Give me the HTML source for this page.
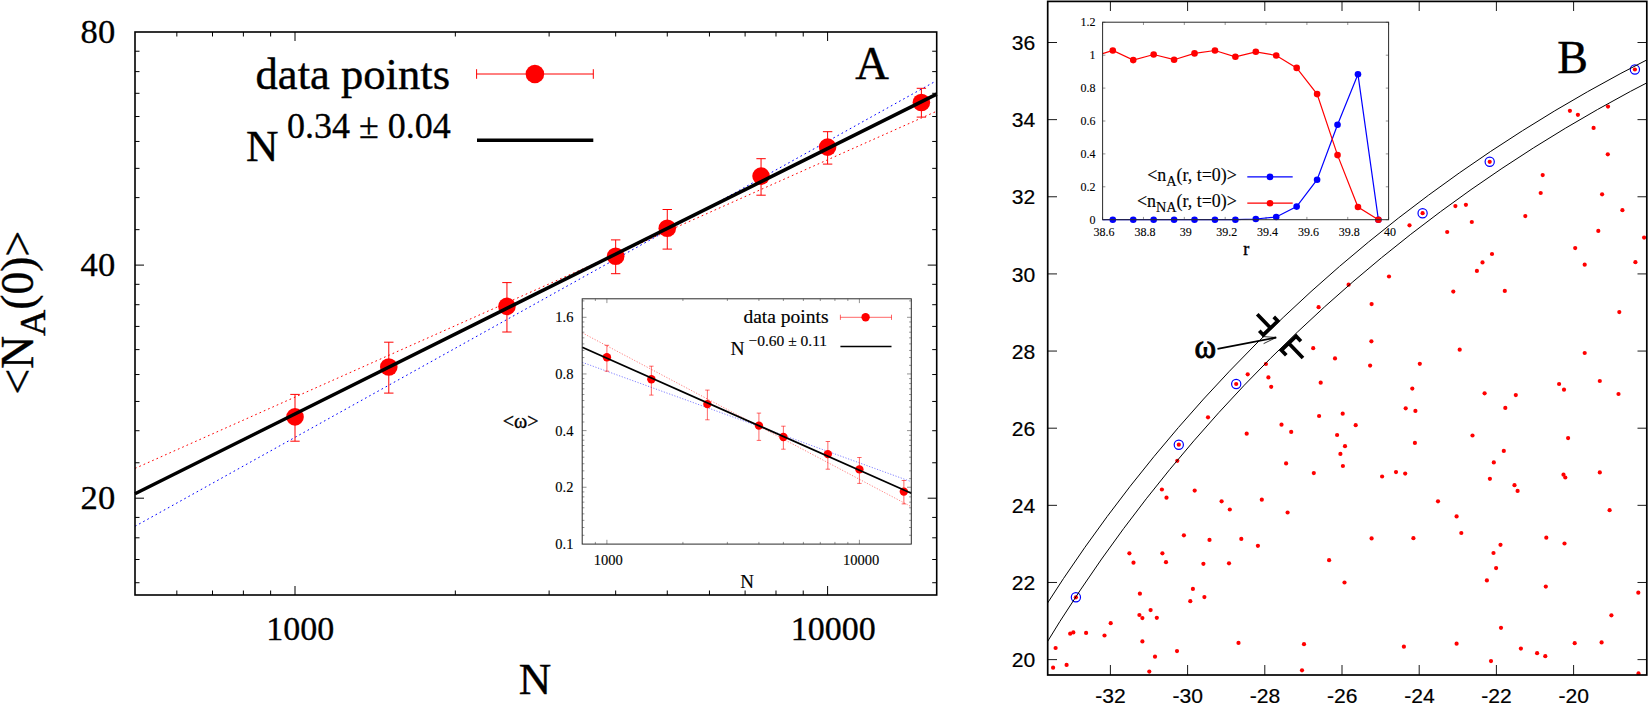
<!DOCTYPE html>
<html><head><meta charset="utf-8"><title>Figure</title>
<style>html,body{margin:0;padding:0;background:#fff}svg{display:block}</style></head>
<body><svg width="1648" height="703" viewBox="0 0 1648 703">
<rect width="1648" height="703" fill="#fff"/>
<g id="panelA">
<line x1="176.84" y1="595" x2="176.84" y2="590.5" stroke="#000" stroke-width="1.0" />
<line x1="176.84" y1="32" x2="176.84" y2="36.5" stroke="#000" stroke-width="1.0" />
<line x1="212.5" y1="595" x2="212.5" y2="590.5" stroke="#000" stroke-width="1.0" />
<line x1="212.5" y1="32" x2="212.5" y2="36.5" stroke="#000" stroke-width="1.0" />
<line x1="243.39" y1="595" x2="243.39" y2="590.5" stroke="#000" stroke-width="1.0" />
<line x1="243.39" y1="32" x2="243.39" y2="36.5" stroke="#000" stroke-width="1.0" />
<line x1="270.63" y1="595" x2="270.63" y2="590.5" stroke="#000" stroke-width="1.0" />
<line x1="270.63" y1="32" x2="270.63" y2="36.5" stroke="#000" stroke-width="1.0" />
<line x1="295" y1="595" x2="295" y2="586" stroke="#000" stroke-width="1.0" />
<line x1="295" y1="32" x2="295" y2="41" stroke="#000" stroke-width="1.0" />
<line x1="455.33" y1="595" x2="455.33" y2="590.5" stroke="#000" stroke-width="1.0" />
<line x1="455.33" y1="32" x2="455.33" y2="36.5" stroke="#000" stroke-width="1.0" />
<line x1="549.11" y1="595" x2="549.11" y2="590.5" stroke="#000" stroke-width="1.0" />
<line x1="549.11" y1="32" x2="549.11" y2="36.5" stroke="#000" stroke-width="1.0" />
<line x1="615.66" y1="595" x2="615.66" y2="590.5" stroke="#000" stroke-width="1.0" />
<line x1="615.66" y1="32" x2="615.66" y2="36.5" stroke="#000" stroke-width="1.0" />
<line x1="667.27" y1="595" x2="667.27" y2="590.5" stroke="#000" stroke-width="1.0" />
<line x1="667.27" y1="32" x2="667.27" y2="36.5" stroke="#000" stroke-width="1.0" />
<line x1="709.44" y1="595" x2="709.44" y2="590.5" stroke="#000" stroke-width="1.0" />
<line x1="709.44" y1="32" x2="709.44" y2="36.5" stroke="#000" stroke-width="1.0" />
<line x1="745.1" y1="595" x2="745.1" y2="590.5" stroke="#000" stroke-width="1.0" />
<line x1="745.1" y1="32" x2="745.1" y2="36.5" stroke="#000" stroke-width="1.0" />
<line x1="775.99" y1="595" x2="775.99" y2="590.5" stroke="#000" stroke-width="1.0" />
<line x1="775.99" y1="32" x2="775.99" y2="36.5" stroke="#000" stroke-width="1.0" />
<line x1="803.23" y1="595" x2="803.23" y2="590.5" stroke="#000" stroke-width="1.0" />
<line x1="803.23" y1="32" x2="803.23" y2="36.5" stroke="#000" stroke-width="1.0" />
<line x1="827.6" y1="595" x2="827.6" y2="586" stroke="#000" stroke-width="1.0" />
<line x1="827.6" y1="32" x2="827.6" y2="41" stroke="#000" stroke-width="1.0" />
<line x1="135" y1="498.2" x2="144" y2="498.2" stroke="#000" stroke-width="1.0" />
<line x1="936.7" y1="498.2" x2="927.7" y2="498.2" stroke="#000" stroke-width="1.0" />
<line x1="135" y1="265.1" x2="144" y2="265.1" stroke="#000" stroke-width="1.0" />
<line x1="936.7" y1="265.1" x2="927.7" y2="265.1" stroke="#000" stroke-width="1.0" />
<line x1="135" y1="582.72" x2="139.5" y2="582.72" stroke="#000" stroke-width="1.0" />
<line x1="936.7" y1="582.72" x2="932.2" y2="582.72" stroke="#000" stroke-width="1.0" />
<line x1="135" y1="559.51" x2="139.5" y2="559.51" stroke="#000" stroke-width="1.0" />
<line x1="936.7" y1="559.51" x2="932.2" y2="559.51" stroke="#000" stroke-width="1.0" />
<line x1="135" y1="537.81" x2="139.5" y2="537.81" stroke="#000" stroke-width="1.0" />
<line x1="936.7" y1="537.81" x2="932.2" y2="537.81" stroke="#000" stroke-width="1.0" />
<line x1="135" y1="517.42" x2="139.5" y2="517.42" stroke="#000" stroke-width="1.0" />
<line x1="936.7" y1="517.42" x2="932.2" y2="517.42" stroke="#000" stroke-width="1.0" />
<line x1="135" y1="462.77" x2="139.5" y2="462.77" stroke="#000" stroke-width="1.0" />
<line x1="936.7" y1="462.77" x2="932.2" y2="462.77" stroke="#000" stroke-width="1.0" />
<line x1="135" y1="430.72" x2="139.5" y2="430.72" stroke="#000" stroke-width="1.0" />
<line x1="936.7" y1="430.72" x2="932.2" y2="430.72" stroke="#000" stroke-width="1.0" />
<line x1="135" y1="401.45" x2="139.5" y2="401.45" stroke="#000" stroke-width="1.0" />
<line x1="936.7" y1="401.45" x2="932.2" y2="401.45" stroke="#000" stroke-width="1.0" />
<line x1="135" y1="374.54" x2="139.5" y2="374.54" stroke="#000" stroke-width="1.0" />
<line x1="936.7" y1="374.54" x2="932.2" y2="374.54" stroke="#000" stroke-width="1.0" />
<line x1="135" y1="349.62" x2="139.5" y2="349.62" stroke="#000" stroke-width="1.0" />
<line x1="936.7" y1="349.62" x2="932.2" y2="349.62" stroke="#000" stroke-width="1.0" />
<line x1="135" y1="326.41" x2="139.5" y2="326.41" stroke="#000" stroke-width="1.0" />
<line x1="936.7" y1="326.41" x2="932.2" y2="326.41" stroke="#000" stroke-width="1.0" />
<line x1="135" y1="304.71" x2="139.5" y2="304.71" stroke="#000" stroke-width="1.0" />
<line x1="936.7" y1="304.71" x2="932.2" y2="304.71" stroke="#000" stroke-width="1.0" />
<line x1="135" y1="284.32" x2="139.5" y2="284.32" stroke="#000" stroke-width="1.0" />
<line x1="936.7" y1="284.32" x2="932.2" y2="284.32" stroke="#000" stroke-width="1.0" />
<line x1="135" y1="229.67" x2="139.5" y2="229.67" stroke="#000" stroke-width="1.0" />
<line x1="936.7" y1="229.67" x2="932.2" y2="229.67" stroke="#000" stroke-width="1.0" />
<line x1="135" y1="197.62" x2="139.5" y2="197.62" stroke="#000" stroke-width="1.0" />
<line x1="936.7" y1="197.62" x2="932.2" y2="197.62" stroke="#000" stroke-width="1.0" />
<line x1="135" y1="168.35" x2="139.5" y2="168.35" stroke="#000" stroke-width="1.0" />
<line x1="936.7" y1="168.35" x2="932.2" y2="168.35" stroke="#000" stroke-width="1.0" />
<line x1="135" y1="141.44" x2="139.5" y2="141.44" stroke="#000" stroke-width="1.0" />
<line x1="936.7" y1="141.44" x2="932.2" y2="141.44" stroke="#000" stroke-width="1.0" />
<line x1="135" y1="116.52" x2="139.5" y2="116.52" stroke="#000" stroke-width="1.0" />
<line x1="936.7" y1="116.52" x2="932.2" y2="116.52" stroke="#000" stroke-width="1.0" />
<line x1="135" y1="93.31" x2="139.5" y2="93.31" stroke="#000" stroke-width="1.0" />
<line x1="936.7" y1="93.31" x2="932.2" y2="93.31" stroke="#000" stroke-width="1.0" />
<line x1="135" y1="71.61" x2="139.5" y2="71.61" stroke="#000" stroke-width="1.0" />
<line x1="936.7" y1="71.61" x2="932.2" y2="71.61" stroke="#000" stroke-width="1.0" />
<line x1="135" y1="51.22" x2="139.5" y2="51.22" stroke="#000" stroke-width="1.0" />
<line x1="936.7" y1="51.22" x2="932.2" y2="51.22" stroke="#000" stroke-width="1.0" />
<line x1="135" y1="468.4" x2="936.7" y2="111.2" stroke="#ff0000" stroke-width="1" stroke-dasharray="1.7 3"/>
<line x1="135" y1="526.3" x2="936.7" y2="80.6" stroke="#0000ff" stroke-width="1" stroke-dasharray="1.7 3"/>
<line x1="295" y1="394.4" x2="295" y2="441.2" stroke="#ff0000" stroke-width="1" />
<line x1="290.3" y1="394.4" x2="299.7" y2="394.4" stroke="#ff0000" stroke-width="1" />
<line x1="290.3" y1="441.2" x2="299.7" y2="441.2" stroke="#ff0000" stroke-width="1" />
<circle cx="295" cy="416.9" r="8.8" fill="#ff0000"/>
<line x1="388.79" y1="342.2" x2="388.79" y2="393.1" stroke="#ff0000" stroke-width="1" />
<line x1="384.09" y1="342.2" x2="393.49" y2="342.2" stroke="#ff0000" stroke-width="1" />
<line x1="384.09" y1="393.1" x2="393.49" y2="393.1" stroke="#ff0000" stroke-width="1" />
<circle cx="388.79" cy="367" r="8.8" fill="#ff0000"/>
<line x1="506.94" y1="282.6" x2="506.94" y2="332" stroke="#ff0000" stroke-width="1" />
<line x1="502.24" y1="282.6" x2="511.64" y2="282.6" stroke="#ff0000" stroke-width="1" />
<line x1="502.24" y1="332" x2="511.64" y2="332" stroke="#ff0000" stroke-width="1" />
<circle cx="506.94" cy="306.4" r="8.8" fill="#ff0000"/>
<line x1="615.66" y1="239.9" x2="615.66" y2="273.7" stroke="#ff0000" stroke-width="1" />
<line x1="610.96" y1="239.9" x2="620.36" y2="239.9" stroke="#ff0000" stroke-width="1" />
<line x1="610.96" y1="273.7" x2="620.36" y2="273.7" stroke="#ff0000" stroke-width="1" />
<circle cx="615.66" cy="256.3" r="8.8" fill="#ff0000"/>
<line x1="667.27" y1="209.5" x2="667.27" y2="249.1" stroke="#ff0000" stroke-width="1" />
<line x1="662.57" y1="209.5" x2="671.97" y2="209.5" stroke="#ff0000" stroke-width="1" />
<line x1="662.57" y1="249.1" x2="671.97" y2="249.1" stroke="#ff0000" stroke-width="1" />
<circle cx="667.27" cy="228.3" r="8.8" fill="#ff0000"/>
<line x1="761.06" y1="158.7" x2="761.06" y2="195.2" stroke="#ff0000" stroke-width="1" />
<line x1="756.36" y1="158.7" x2="765.76" y2="158.7" stroke="#ff0000" stroke-width="1" />
<line x1="756.36" y1="195.2" x2="765.76" y2="195.2" stroke="#ff0000" stroke-width="1" />
<circle cx="761.06" cy="176.1" r="8.8" fill="#ff0000"/>
<line x1="827.6" y1="131.7" x2="827.6" y2="164.1" stroke="#ff0000" stroke-width="1" />
<line x1="822.9" y1="131.7" x2="832.3" y2="131.7" stroke="#ff0000" stroke-width="1" />
<line x1="822.9" y1="164.1" x2="832.3" y2="164.1" stroke="#ff0000" stroke-width="1" />
<circle cx="827.6" cy="147.1" r="8.8" fill="#ff0000"/>
<line x1="921.39" y1="88.3" x2="921.39" y2="117.1" stroke="#ff0000" stroke-width="1" />
<line x1="916.69" y1="88.3" x2="926.09" y2="88.3" stroke="#ff0000" stroke-width="1" />
<line x1="916.69" y1="117.1" x2="926.09" y2="117.1" stroke="#ff0000" stroke-width="1" />
<circle cx="921.39" cy="102.5" r="8.8" fill="#ff0000"/>
<line x1="135" y1="493.7" x2="936.7" y2="94.1" stroke="#000" stroke-width="3.5" />
<rect x="135.0" y="32.0" width="801.7" height="563" fill="none" stroke="#000" stroke-width="1.6"/>
<text x="115.2" y="43.1" font-size="34.6" text-anchor="end" font-family="Liberation Serif, serif" stroke="#000" stroke-width="0.31" >80</text>
<text x="115.2" y="276" font-size="34.6" text-anchor="end" font-family="Liberation Serif, serif" stroke="#000" stroke-width="0.31" >40</text>
<text x="115.2" y="509.3" font-size="34.6" text-anchor="end" font-family="Liberation Serif, serif" stroke="#000" stroke-width="0.31" >20</text>
<text x="266.2" y="639.9" font-size="34" text-anchor="start" font-family="Liberation Serif, serif" stroke="#000" stroke-width="0.31" >1000</text>
<text x="790.7" y="639.9" font-size="34" text-anchor="start" font-family="Liberation Serif, serif" stroke="#000" stroke-width="0.31" >10000</text>
<text x="535" y="694.2" font-size="45" text-anchor="middle" font-family="Liberation Serif, serif" stroke="#000" stroke-width="0.4" >N</text>
<text transform="translate(32.7 312.7) rotate(-90)" font-size="45.5" text-anchor="middle" font-family="Liberation Serif, serif" stroke="#000" stroke-width="0.4">&lt;N<tspan font-size="36.4" dy="12.4">A</tspan><tspan dy="-12.4">(0)&gt;</tspan></text>
<text x="872.1" y="78.8" font-size="46.5" text-anchor="middle" font-family="Liberation Serif, serif" stroke="#000" stroke-width="0.42" >A</text>
<text x="450" y="88.5" font-size="44.6" text-anchor="end" font-family="Liberation Serif, serif" stroke="#000" stroke-width="0.4" >data points</text>
<line x1="476.6" y1="74" x2="593.3" y2="74" stroke="#ff0000" stroke-width="1" />
<line x1="476.6" y1="69.2" x2="476.6" y2="78.8" stroke="#ff0000" stroke-width="1" />
<line x1="593.3" y1="69.2" x2="593.3" y2="78.8" stroke="#ff0000" stroke-width="1" />
<circle cx="534.9" cy="74" r="9.3" fill="#ff0000"/>
<text x="246" y="160.6" font-size="45" text-anchor="start" font-family="Liberation Serif, serif" stroke="#000" stroke-width="0.4" >N</text>
<text x="287" y="138.3" font-size="36" text-anchor="start" font-family="Liberation Serif, serif" stroke="#000" stroke-width="0.32" >0.34 ± 0.04</text>
<line x1="477" y1="140.2" x2="593.3" y2="140.2" stroke="#000" stroke-width="3.4" />
</g>
<g id="insetA">
<line x1="595.35" y1="544.1" x2="595.35" y2="541.9" stroke="#666" stroke-width="0.7" />
<line x1="595.35" y1="298.8" x2="595.35" y2="301" stroke="#666" stroke-width="0.7" />
<line x1="606.9" y1="544.1" x2="606.9" y2="539.8" stroke="#666" stroke-width="0.7" />
<line x1="606.9" y1="298.8" x2="606.9" y2="303.1" stroke="#666" stroke-width="0.7" />
<line x1="682.91" y1="544.1" x2="682.91" y2="541.9" stroke="#666" stroke-width="0.7" />
<line x1="682.91" y1="298.8" x2="682.91" y2="301" stroke="#666" stroke-width="0.7" />
<line x1="727.37" y1="544.1" x2="727.37" y2="541.9" stroke="#666" stroke-width="0.7" />
<line x1="727.37" y1="298.8" x2="727.37" y2="301" stroke="#666" stroke-width="0.7" />
<line x1="758.92" y1="544.1" x2="758.92" y2="541.9" stroke="#666" stroke-width="0.7" />
<line x1="758.92" y1="298.8" x2="758.92" y2="301" stroke="#666" stroke-width="0.7" />
<line x1="783.39" y1="544.1" x2="783.39" y2="541.9" stroke="#666" stroke-width="0.7" />
<line x1="783.39" y1="298.8" x2="783.39" y2="301" stroke="#666" stroke-width="0.7" />
<line x1="803.38" y1="544.1" x2="803.38" y2="541.9" stroke="#666" stroke-width="0.7" />
<line x1="803.38" y1="298.8" x2="803.38" y2="301" stroke="#666" stroke-width="0.7" />
<line x1="820.29" y1="544.1" x2="820.29" y2="541.9" stroke="#666" stroke-width="0.7" />
<line x1="820.29" y1="298.8" x2="820.29" y2="301" stroke="#666" stroke-width="0.7" />
<line x1="834.93" y1="544.1" x2="834.93" y2="541.9" stroke="#666" stroke-width="0.7" />
<line x1="834.93" y1="298.8" x2="834.93" y2="301" stroke="#666" stroke-width="0.7" />
<line x1="847.85" y1="544.1" x2="847.85" y2="541.9" stroke="#666" stroke-width="0.7" />
<line x1="847.85" y1="298.8" x2="847.85" y2="301" stroke="#666" stroke-width="0.7" />
<line x1="859.4" y1="544.1" x2="859.4" y2="539.8" stroke="#666" stroke-width="0.7" />
<line x1="859.4" y1="298.8" x2="859.4" y2="303.1" stroke="#666" stroke-width="0.7" />
<line x1="582.2" y1="487.25" x2="586.5" y2="487.25" stroke="#666" stroke-width="0.7" />
<line x1="911.3" y1="487.25" x2="907" y2="487.25" stroke="#666" stroke-width="0.7" />
<line x1="582.2" y1="430.6" x2="586.5" y2="430.6" stroke="#666" stroke-width="0.7" />
<line x1="911.3" y1="430.6" x2="907" y2="430.6" stroke="#666" stroke-width="0.7" />
<line x1="582.2" y1="373.95" x2="586.5" y2="373.95" stroke="#666" stroke-width="0.7" />
<line x1="911.3" y1="373.95" x2="907" y2="373.95" stroke="#666" stroke-width="0.7" />
<line x1="582.2" y1="317.3" x2="586.5" y2="317.3" stroke="#666" stroke-width="0.7" />
<line x1="911.3" y1="317.3" x2="907" y2="317.3" stroke="#666" stroke-width="0.7" />
<line x1="582.2" y1="535.29" x2="584.4" y2="535.29" stroke="#666" stroke-width="0.7" />
<line x1="911.3" y1="535.29" x2="909.1" y2="535.29" stroke="#666" stroke-width="0.7" />
<line x1="582.2" y1="527.5" x2="584.4" y2="527.5" stroke="#666" stroke-width="0.7" />
<line x1="911.3" y1="527.5" x2="909.1" y2="527.5" stroke="#666" stroke-width="0.7" />
<line x1="582.2" y1="520.39" x2="584.4" y2="520.39" stroke="#666" stroke-width="0.7" />
<line x1="911.3" y1="520.39" x2="909.1" y2="520.39" stroke="#666" stroke-width="0.7" />
<line x1="582.2" y1="513.85" x2="584.4" y2="513.85" stroke="#666" stroke-width="0.7" />
<line x1="911.3" y1="513.85" x2="909.1" y2="513.85" stroke="#666" stroke-width="0.7" />
<line x1="582.2" y1="507.79" x2="584.4" y2="507.79" stroke="#666" stroke-width="0.7" />
<line x1="911.3" y1="507.79" x2="909.1" y2="507.79" stroke="#666" stroke-width="0.7" />
<line x1="582.2" y1="502.15" x2="584.4" y2="502.15" stroke="#666" stroke-width="0.7" />
<line x1="911.3" y1="502.15" x2="909.1" y2="502.15" stroke="#666" stroke-width="0.7" />
<line x1="582.2" y1="496.88" x2="584.4" y2="496.88" stroke="#666" stroke-width="0.7" />
<line x1="911.3" y1="496.88" x2="909.1" y2="496.88" stroke="#666" stroke-width="0.7" />
<line x1="582.2" y1="491.92" x2="584.4" y2="491.92" stroke="#666" stroke-width="0.7" />
<line x1="911.3" y1="491.92" x2="909.1" y2="491.92" stroke="#666" stroke-width="0.7" />
<line x1="582.2" y1="478.64" x2="584.4" y2="478.64" stroke="#666" stroke-width="0.7" />
<line x1="911.3" y1="478.64" x2="909.1" y2="478.64" stroke="#666" stroke-width="0.7" />
<line x1="582.2" y1="470.85" x2="584.4" y2="470.85" stroke="#666" stroke-width="0.7" />
<line x1="911.3" y1="470.85" x2="909.1" y2="470.85" stroke="#666" stroke-width="0.7" />
<line x1="582.2" y1="463.74" x2="584.4" y2="463.74" stroke="#666" stroke-width="0.7" />
<line x1="911.3" y1="463.74" x2="909.1" y2="463.74" stroke="#666" stroke-width="0.7" />
<line x1="582.2" y1="457.2" x2="584.4" y2="457.2" stroke="#666" stroke-width="0.7" />
<line x1="911.3" y1="457.2" x2="909.1" y2="457.2" stroke="#666" stroke-width="0.7" />
<line x1="582.2" y1="451.14" x2="584.4" y2="451.14" stroke="#666" stroke-width="0.7" />
<line x1="911.3" y1="451.14" x2="909.1" y2="451.14" stroke="#666" stroke-width="0.7" />
<line x1="582.2" y1="445.5" x2="584.4" y2="445.5" stroke="#666" stroke-width="0.7" />
<line x1="911.3" y1="445.5" x2="909.1" y2="445.5" stroke="#666" stroke-width="0.7" />
<line x1="582.2" y1="440.23" x2="584.4" y2="440.23" stroke="#666" stroke-width="0.7" />
<line x1="911.3" y1="440.23" x2="909.1" y2="440.23" stroke="#666" stroke-width="0.7" />
<line x1="582.2" y1="435.27" x2="584.4" y2="435.27" stroke="#666" stroke-width="0.7" />
<line x1="911.3" y1="435.27" x2="909.1" y2="435.27" stroke="#666" stroke-width="0.7" />
<line x1="582.2" y1="421.99" x2="584.4" y2="421.99" stroke="#666" stroke-width="0.7" />
<line x1="911.3" y1="421.99" x2="909.1" y2="421.99" stroke="#666" stroke-width="0.7" />
<line x1="582.2" y1="414.2" x2="584.4" y2="414.2" stroke="#666" stroke-width="0.7" />
<line x1="911.3" y1="414.2" x2="909.1" y2="414.2" stroke="#666" stroke-width="0.7" />
<line x1="582.2" y1="407.09" x2="584.4" y2="407.09" stroke="#666" stroke-width="0.7" />
<line x1="911.3" y1="407.09" x2="909.1" y2="407.09" stroke="#666" stroke-width="0.7" />
<line x1="582.2" y1="400.55" x2="584.4" y2="400.55" stroke="#666" stroke-width="0.7" />
<line x1="911.3" y1="400.55" x2="909.1" y2="400.55" stroke="#666" stroke-width="0.7" />
<line x1="582.2" y1="394.49" x2="584.4" y2="394.49" stroke="#666" stroke-width="0.7" />
<line x1="911.3" y1="394.49" x2="909.1" y2="394.49" stroke="#666" stroke-width="0.7" />
<line x1="582.2" y1="388.85" x2="584.4" y2="388.85" stroke="#666" stroke-width="0.7" />
<line x1="911.3" y1="388.85" x2="909.1" y2="388.85" stroke="#666" stroke-width="0.7" />
<line x1="582.2" y1="383.58" x2="584.4" y2="383.58" stroke="#666" stroke-width="0.7" />
<line x1="911.3" y1="383.58" x2="909.1" y2="383.58" stroke="#666" stroke-width="0.7" />
<line x1="582.2" y1="378.62" x2="584.4" y2="378.62" stroke="#666" stroke-width="0.7" />
<line x1="911.3" y1="378.62" x2="909.1" y2="378.62" stroke="#666" stroke-width="0.7" />
<line x1="582.2" y1="365.34" x2="584.4" y2="365.34" stroke="#666" stroke-width="0.7" />
<line x1="911.3" y1="365.34" x2="909.1" y2="365.34" stroke="#666" stroke-width="0.7" />
<line x1="582.2" y1="357.55" x2="584.4" y2="357.55" stroke="#666" stroke-width="0.7" />
<line x1="911.3" y1="357.55" x2="909.1" y2="357.55" stroke="#666" stroke-width="0.7" />
<line x1="582.2" y1="350.44" x2="584.4" y2="350.44" stroke="#666" stroke-width="0.7" />
<line x1="911.3" y1="350.44" x2="909.1" y2="350.44" stroke="#666" stroke-width="0.7" />
<line x1="582.2" y1="343.9" x2="584.4" y2="343.9" stroke="#666" stroke-width="0.7" />
<line x1="911.3" y1="343.9" x2="909.1" y2="343.9" stroke="#666" stroke-width="0.7" />
<line x1="582.2" y1="337.84" x2="584.4" y2="337.84" stroke="#666" stroke-width="0.7" />
<line x1="911.3" y1="337.84" x2="909.1" y2="337.84" stroke="#666" stroke-width="0.7" />
<line x1="582.2" y1="332.2" x2="584.4" y2="332.2" stroke="#666" stroke-width="0.7" />
<line x1="911.3" y1="332.2" x2="909.1" y2="332.2" stroke="#666" stroke-width="0.7" />
<line x1="582.2" y1="326.93" x2="584.4" y2="326.93" stroke="#666" stroke-width="0.7" />
<line x1="911.3" y1="326.93" x2="909.1" y2="326.93" stroke="#666" stroke-width="0.7" />
<line x1="582.2" y1="321.97" x2="584.4" y2="321.97" stroke="#666" stroke-width="0.7" />
<line x1="911.3" y1="321.97" x2="909.1" y2="321.97" stroke="#666" stroke-width="0.7" />
<line x1="582.2" y1="308.69" x2="584.4" y2="308.69" stroke="#666" stroke-width="0.7" />
<line x1="911.3" y1="308.69" x2="909.1" y2="308.69" stroke="#666" stroke-width="0.7" />
<line x1="582.2" y1="300.9" x2="584.4" y2="300.9" stroke="#666" stroke-width="0.7" />
<line x1="911.3" y1="300.9" x2="909.1" y2="300.9" stroke="#666" stroke-width="0.7" />
<line x1="582.2" y1="332.8" x2="911.3" y2="506.7" stroke="#ff0000" stroke-width="0.5" stroke-dasharray="1.2 1.6"/>
<line x1="582.2" y1="362.3" x2="911.3" y2="481.7" stroke="#0000ff" stroke-width="0.5" stroke-dasharray="1.2 1.6"/>
<line x1="606.9" y1="345.3" x2="606.9" y2="371.2" stroke="#ff0000" stroke-width="0.6" />
<line x1="604.7" y1="345.3" x2="609.1" y2="345.3" stroke="#ff0000" stroke-width="0.6" />
<line x1="604.7" y1="371.2" x2="609.1" y2="371.2" stroke="#ff0000" stroke-width="0.6" />
<circle cx="606.9" cy="357.3" r="4.2" fill="#ff0000"/>
<line x1="651.36" y1="366.2" x2="651.36" y2="395.1" stroke="#ff0000" stroke-width="0.6" />
<line x1="649.16" y1="366.2" x2="653.56" y2="366.2" stroke="#ff0000" stroke-width="0.6" />
<line x1="649.16" y1="395.1" x2="653.56" y2="395.1" stroke="#ff0000" stroke-width="0.6" />
<circle cx="651.36" cy="379.2" r="4.2" fill="#ff0000"/>
<line x1="707.38" y1="390.1" x2="707.38" y2="419.8" stroke="#ff0000" stroke-width="0.6" />
<line x1="705.18" y1="390.1" x2="709.58" y2="390.1" stroke="#ff0000" stroke-width="0.6" />
<line x1="705.18" y1="419.8" x2="709.58" y2="419.8" stroke="#ff0000" stroke-width="0.6" />
<circle cx="707.38" cy="404.1" r="4.2" fill="#ff0000"/>
<line x1="758.92" y1="413.1" x2="758.92" y2="440.4" stroke="#ff0000" stroke-width="0.6" />
<line x1="756.72" y1="413.1" x2="761.12" y2="413.1" stroke="#ff0000" stroke-width="0.6" />
<line x1="756.72" y1="440.4" x2="761.12" y2="440.4" stroke="#ff0000" stroke-width="0.6" />
<circle cx="758.92" cy="425.6" r="4.2" fill="#ff0000"/>
<line x1="783.39" y1="426.2" x2="783.39" y2="449.2" stroke="#ff0000" stroke-width="0.6" />
<line x1="781.19" y1="426.2" x2="785.59" y2="426.2" stroke="#ff0000" stroke-width="0.6" />
<line x1="781.19" y1="449.2" x2="785.59" y2="449.2" stroke="#ff0000" stroke-width="0.6" />
<circle cx="783.39" cy="437" r="4.2" fill="#ff0000"/>
<line x1="827.85" y1="441.5" x2="827.85" y2="469.2" stroke="#ff0000" stroke-width="0.6" />
<line x1="825.65" y1="441.5" x2="830.05" y2="441.5" stroke="#ff0000" stroke-width="0.6" />
<line x1="825.65" y1="469.2" x2="830.05" y2="469.2" stroke="#ff0000" stroke-width="0.6" />
<circle cx="827.85" cy="454.1" r="4.2" fill="#ff0000"/>
<line x1="859.4" y1="457.5" x2="859.4" y2="483.4" stroke="#ff0000" stroke-width="0.6" />
<line x1="857.2" y1="457.5" x2="861.6" y2="457.5" stroke="#ff0000" stroke-width="0.6" />
<line x1="857.2" y1="483.4" x2="861.6" y2="483.4" stroke="#ff0000" stroke-width="0.6" />
<circle cx="859.4" cy="469.4" r="4.2" fill="#ff0000"/>
<line x1="903.86" y1="480.5" x2="903.86" y2="503.9" stroke="#ff0000" stroke-width="0.6" />
<line x1="901.66" y1="480.5" x2="906.06" y2="480.5" stroke="#ff0000" stroke-width="0.6" />
<line x1="901.66" y1="503.9" x2="906.06" y2="503.9" stroke="#ff0000" stroke-width="0.6" />
<circle cx="903.86" cy="491.6" r="4.2" fill="#ff0000"/>
<line x1="582.2" y1="347.3" x2="911.3" y2="493.3" stroke="#000" stroke-width="1.8" />
<rect x="582.2" y="298.8" width="329.1" height="245.3" fill="none" stroke="#2a2a2a" stroke-width="1"/>
<text x="573.4" y="322.3" font-size="14.5" text-anchor="end" font-family="Liberation Serif, serif" stroke="#000" stroke-width="0.13" >1.6</text>
<text x="573.4" y="378.95" font-size="14.5" text-anchor="end" font-family="Liberation Serif, serif" stroke="#000" stroke-width="0.13" >0.8</text>
<text x="573.4" y="435.6" font-size="14.5" text-anchor="end" font-family="Liberation Serif, serif" stroke="#000" stroke-width="0.13" >0.4</text>
<text x="573.4" y="492.25" font-size="14.5" text-anchor="end" font-family="Liberation Serif, serif" stroke="#000" stroke-width="0.13" >0.2</text>
<text x="573.4" y="548.9" font-size="14.5" text-anchor="end" font-family="Liberation Serif, serif" stroke="#000" stroke-width="0.13" >0.1</text>
<text x="593.7" y="564.5" font-size="14.5" text-anchor="start" font-family="Liberation Serif, serif" stroke="#000" stroke-width="0.13" >1000</text>
<text x="843" y="564.5" font-size="14.5" text-anchor="start" font-family="Liberation Serif, serif" stroke="#000" stroke-width="0.13" >10000</text>
<text x="747.1" y="587.8" font-size="19" text-anchor="middle" font-family="Liberation Serif, serif" stroke="#000" stroke-width="0.17" >N</text>
<text x="520.6" y="428.3" font-size="20" text-anchor="middle" font-family="Liberation Serif, serif" stroke="#000" stroke-width="0.35">&lt;ω&gt;</text>
<text x="828.5" y="323.4" font-size="19.5" text-anchor="end" font-family="Liberation Serif, serif" stroke="#000" stroke-width="0.18" >data points</text>
<line x1="840.4" y1="317.3" x2="891.5" y2="317.3" stroke="#ff0000" stroke-width="0.6" />
<line x1="840.4" y1="314.7" x2="840.4" y2="319.9" stroke="#ff0000" stroke-width="0.6" />
<line x1="891.5" y1="314.7" x2="891.5" y2="319.9" stroke="#ff0000" stroke-width="0.6" />
<circle cx="865.6" cy="317.3" r="4.2" fill="#ff0000"/>
<text x="730.6" y="354.7" font-size="19.5" text-anchor="start" font-family="Liberation Serif, serif" stroke="#000" stroke-width="0.18" >N</text>
<text x="748.4" y="345.7" font-size="15.5" text-anchor="start" font-family="Liberation Serif, serif" stroke="#000" stroke-width="0.14" >−0.60 ± 0.11</text>
<line x1="840.4" y1="346.5" x2="891.5" y2="346.5" stroke="#000" stroke-width="1.7" />
</g>
<g id="panelB">
<clipPath id="cb"><rect x="1047.7" y="1.4" width="599.1" height="673.6"/></clipPath>
<g clip-path="url(#cb)">
<circle cx="1053.1" cy="667.7" r="2.1" fill="#ff0000"/>
<circle cx="1066.6" cy="664.9" r="2.1" fill="#ff0000"/>
<circle cx="1055.6" cy="648.0" r="2.1" fill="#ff0000"/>
<circle cx="1070.2" cy="633.7" r="2.1" fill="#ff0000"/>
<circle cx="1073.3" cy="632.4" r="2.1" fill="#ff0000"/>
<circle cx="1086.1" cy="632.9" r="2.1" fill="#ff0000"/>
<circle cx="1104.5" cy="635.5" r="2.1" fill="#ff0000"/>
<circle cx="1110.7" cy="623.2" r="2.1" fill="#ff0000"/>
<circle cx="1075.9" cy="597.3" r="2.1" fill="#ff0000"/>
<circle cx="1075.9" cy="597.3" r="4.6" fill="none" stroke="#0000ff" stroke-width="1.2"/>
<circle cx="1129.4" cy="553.3" r="2.1" fill="#ff0000"/>
<circle cx="1133.5" cy="562.7" r="2.1" fill="#ff0000"/>
<circle cx="1139.9" cy="593.7" r="2.1" fill="#ff0000"/>
<circle cx="1139.4" cy="615.0" r="2.1" fill="#ff0000"/>
<circle cx="1142.4" cy="618.1" r="2.1" fill="#ff0000"/>
<circle cx="1150.6" cy="610.1" r="2.1" fill="#ff0000"/>
<circle cx="1156.8" cy="617.8" r="2.1" fill="#ff0000"/>
<circle cx="1142.4" cy="641.4" r="2.1" fill="#ff0000"/>
<circle cx="1155.0" cy="656.7" r="2.1" fill="#ff0000"/>
<circle cx="1149.3" cy="671.6" r="2.1" fill="#ff0000"/>
<circle cx="1177.0" cy="651.1" r="2.1" fill="#ff0000"/>
<circle cx="1162.4" cy="553.3" r="2.1" fill="#ff0000"/>
<circle cx="1166.0" cy="562.2" r="2.1" fill="#ff0000"/>
<circle cx="1183.9" cy="535.3" r="2.1" fill="#ff0000"/>
<circle cx="1192.9" cy="588.9" r="2.1" fill="#ff0000"/>
<circle cx="1190.3" cy="601.2" r="2.1" fill="#ff0000"/>
<circle cx="1204.4" cy="597.1" r="2.1" fill="#ff0000"/>
<circle cx="1203.4" cy="563.8" r="2.1" fill="#ff0000"/>
<circle cx="1209.5" cy="539.9" r="2.1" fill="#ff0000"/>
<circle cx="1229.0" cy="563.3" r="2.1" fill="#ff0000"/>
<circle cx="1229.8" cy="509.5" r="2.1" fill="#ff0000"/>
<circle cx="1221.6" cy="501.3" r="2.1" fill="#ff0000"/>
<circle cx="1238.5" cy="642.9" r="2.1" fill="#ff0000"/>
<circle cx="1241.3" cy="538.9" r="2.1" fill="#ff0000"/>
<circle cx="1257.9" cy="545.8" r="2.1" fill="#ff0000"/>
<circle cx="1287.6" cy="512.5" r="2.1" fill="#ff0000"/>
<circle cx="1261.8" cy="499.7" r="2.1" fill="#ff0000"/>
<circle cx="1329.1" cy="560.2" r="2.1" fill="#ff0000"/>
<circle cx="1344.5" cy="582.5" r="2.1" fill="#ff0000"/>
<circle cx="1371.6" cy="538.4" r="2.1" fill="#ff0000"/>
<circle cx="1413.4" cy="538.2" r="2.1" fill="#ff0000"/>
<circle cx="1438.0" cy="501.3" r="2.1" fill="#ff0000"/>
<circle cx="1304.0" cy="644.2" r="2.1" fill="#ff0000"/>
<circle cx="1302.0" cy="670.3" r="2.1" fill="#ff0000"/>
<circle cx="1403.9" cy="646.7" r="2.1" fill="#ff0000"/>
<circle cx="1456.6" cy="516.4" r="2.1" fill="#ff0000"/>
<circle cx="1461.3" cy="533.0" r="2.1" fill="#ff0000"/>
<circle cx="1500.5" cy="544.8" r="2.1" fill="#ff0000"/>
<circle cx="1493.5" cy="553.0" r="2.1" fill="#ff0000"/>
<circle cx="1496.1" cy="568.1" r="2.1" fill="#ff0000"/>
<circle cx="1486.9" cy="580.4" r="2.1" fill="#ff0000"/>
<circle cx="1546.3" cy="537.7" r="2.1" fill="#ff0000"/>
<circle cx="1564.5" cy="543.5" r="2.1" fill="#ff0000"/>
<circle cx="1545.8" cy="586.6" r="2.1" fill="#ff0000"/>
<circle cx="1609.6" cy="510.2" r="2.1" fill="#ff0000"/>
<circle cx="1638.3" cy="592.7" r="2.1" fill="#ff0000"/>
<circle cx="1611.4" cy="615.3" r="2.1" fill="#ff0000"/>
<circle cx="1501.0" cy="627.8" r="2.1" fill="#ff0000"/>
<circle cx="1456.6" cy="643.7" r="2.1" fill="#ff0000"/>
<circle cx="1520.9" cy="648.6" r="2.1" fill="#ff0000"/>
<circle cx="1537.1" cy="653.2" r="2.1" fill="#ff0000"/>
<circle cx="1545.3" cy="656.2" r="2.1" fill="#ff0000"/>
<circle cx="1491.0" cy="661.1" r="2.1" fill="#ff0000"/>
<circle cx="1574.7" cy="643.2" r="2.1" fill="#ff0000"/>
<circle cx="1601.6" cy="642.4" r="2.1" fill="#ff0000"/>
<circle cx="1638.5" cy="673.4" r="2.1" fill="#ff0000"/>
<circle cx="1178.8" cy="444.7" r="2.1" fill="#ff0000"/>
<circle cx="1178.8" cy="444.7" r="4.6" fill="none" stroke="#0000ff" stroke-width="1.2"/>
<circle cx="1177.3" cy="460.8" r="2.1" fill="#ff0000"/>
<circle cx="1208.0" cy="417.3" r="2.1" fill="#ff0000"/>
<circle cx="1236.2" cy="384.0" r="2.1" fill="#ff0000"/>
<circle cx="1236.2" cy="384.0" r="4.6" fill="none" stroke="#0000ff" stroke-width="1.2"/>
<circle cx="1161.9" cy="489.5" r="2.1" fill="#ff0000"/>
<circle cx="1166.5" cy="497.7" r="2.1" fill="#ff0000"/>
<circle cx="1194.7" cy="490.6" r="2.1" fill="#ff0000"/>
<circle cx="1247.7" cy="374.3" r="2.1" fill="#ff0000"/>
<circle cx="1265.9" cy="364.0" r="2.1" fill="#ff0000"/>
<circle cx="1268.4" cy="377.4" r="2.1" fill="#ff0000"/>
<circle cx="1271.2" cy="386.8" r="2.1" fill="#ff0000"/>
<circle cx="1313.2" cy="348.2" r="2.1" fill="#ff0000"/>
<circle cx="1335.0" cy="358.4" r="2.1" fill="#ff0000"/>
<circle cx="1320.7" cy="382.7" r="2.1" fill="#ff0000"/>
<circle cx="1371.4" cy="341.3" r="2.1" fill="#ff0000"/>
<circle cx="1370.1" cy="365.6" r="2.1" fill="#ff0000"/>
<circle cx="1419.8" cy="363.8" r="2.1" fill="#ff0000"/>
<circle cx="1412.3" cy="388.6" r="2.1" fill="#ff0000"/>
<circle cx="1405.7" cy="408.3" r="2.1" fill="#ff0000"/>
<circle cx="1415.4" cy="410.9" r="2.1" fill="#ff0000"/>
<circle cx="1319.1" cy="416.0" r="2.1" fill="#ff0000"/>
<circle cx="1342.7" cy="413.7" r="2.1" fill="#ff0000"/>
<circle cx="1355.7" cy="425.2" r="2.1" fill="#ff0000"/>
<circle cx="1337.1" cy="435.0" r="2.1" fill="#ff0000"/>
<circle cx="1345.0" cy="446.2" r="2.1" fill="#ff0000"/>
<circle cx="1340.4" cy="453.9" r="2.1" fill="#ff0000"/>
<circle cx="1342.9" cy="466.0" r="2.1" fill="#ff0000"/>
<circle cx="1281.5" cy="424.7" r="2.1" fill="#ff0000"/>
<circle cx="1291.2" cy="431.9" r="2.1" fill="#ff0000"/>
<circle cx="1246.7" cy="433.7" r="2.1" fill="#ff0000"/>
<circle cx="1286.1" cy="463.4" r="2.1" fill="#ff0000"/>
<circle cx="1313.8" cy="473.1" r="2.1" fill="#ff0000"/>
<circle cx="1382.1" cy="476.5" r="2.1" fill="#ff0000"/>
<circle cx="1396.0" cy="472.1" r="2.1" fill="#ff0000"/>
<circle cx="1405.2" cy="473.6" r="2.1" fill="#ff0000"/>
<circle cx="1414.9" cy="442.9" r="2.1" fill="#ff0000"/>
<circle cx="1459.7" cy="349.7" r="2.1" fill="#ff0000"/>
<circle cx="1584.7" cy="353.0" r="2.1" fill="#ff0000"/>
<circle cx="1599.8" cy="381.0" r="2.1" fill="#ff0000"/>
<circle cx="1559.1" cy="384.0" r="2.1" fill="#ff0000"/>
<circle cx="1564.0" cy="389.7" r="2.1" fill="#ff0000"/>
<circle cx="1618.5" cy="394.0" r="2.1" fill="#ff0000"/>
<circle cx="1484.6" cy="393.3" r="2.1" fill="#ff0000"/>
<circle cx="1515.8" cy="395.1" r="2.1" fill="#ff0000"/>
<circle cx="1505.3" cy="407.9" r="2.1" fill="#ff0000"/>
<circle cx="1472.5" cy="435.5" r="2.1" fill="#ff0000"/>
<circle cx="1568.1" cy="438.1" r="2.1" fill="#ff0000"/>
<circle cx="1503.8" cy="450.9" r="2.1" fill="#ff0000"/>
<circle cx="1493.8" cy="462.4" r="2.1" fill="#ff0000"/>
<circle cx="1489.9" cy="478.8" r="2.1" fill="#ff0000"/>
<circle cx="1514.5" cy="485.2" r="2.1" fill="#ff0000"/>
<circle cx="1517.6" cy="490.9" r="2.1" fill="#ff0000"/>
<circle cx="1563.5" cy="474.7" r="2.1" fill="#ff0000"/>
<circle cx="1565.3" cy="477.5" r="2.1" fill="#ff0000"/>
<circle cx="1599.8" cy="472.4" r="2.1" fill="#ff0000"/>
<circle cx="1422.6" cy="213.2" r="2.1" fill="#ff0000"/>
<circle cx="1422.6" cy="213.2" r="4.6" fill="none" stroke="#0000ff" stroke-width="1.2"/>
<circle cx="1409.5" cy="225.3" r="2.1" fill="#ff0000"/>
<circle cx="1389.0" cy="276.5" r="2.1" fill="#ff0000"/>
<circle cx="1348.6" cy="284.7" r="2.1" fill="#ff0000"/>
<circle cx="1371.6" cy="304.1" r="2.1" fill="#ff0000"/>
<circle cx="1318.6" cy="307.2" r="2.1" fill="#ff0000"/>
<circle cx="1489.7" cy="161.8" r="2.1" fill="#ff0000"/>
<circle cx="1489.7" cy="161.8" r="4.6" fill="none" stroke="#0000ff" stroke-width="1.2"/>
<circle cx="1607.8" cy="154.3" r="2.1" fill="#ff0000"/>
<circle cx="1542.7" cy="175.1" r="2.1" fill="#ff0000"/>
<circle cx="1540.7" cy="193.0" r="2.1" fill="#ff0000"/>
<circle cx="1602.1" cy="194.3" r="2.1" fill="#ff0000"/>
<circle cx="1622.4" cy="210.2" r="2.1" fill="#ff0000"/>
<circle cx="1455.4" cy="206.1" r="2.1" fill="#ff0000"/>
<circle cx="1465.9" cy="204.8" r="2.1" fill="#ff0000"/>
<circle cx="1471.8" cy="222.0" r="2.1" fill="#ff0000"/>
<circle cx="1447.2" cy="232.0" r="2.1" fill="#ff0000"/>
<circle cx="1525.3" cy="216.1" r="2.1" fill="#ff0000"/>
<circle cx="1598.3" cy="230.9" r="2.1" fill="#ff0000"/>
<circle cx="1644.1" cy="237.6" r="2.1" fill="#ff0000"/>
<circle cx="1575.2" cy="248.1" r="2.1" fill="#ff0000"/>
<circle cx="1584.7" cy="264.7" r="2.1" fill="#ff0000"/>
<circle cx="1635.4" cy="262.2" r="2.1" fill="#ff0000"/>
<circle cx="1492.0" cy="254.0" r="2.1" fill="#ff0000"/>
<circle cx="1482.5" cy="262.4" r="2.1" fill="#ff0000"/>
<circle cx="1476.9" cy="270.9" r="2.1" fill="#ff0000"/>
<circle cx="1453.3" cy="291.6" r="2.1" fill="#ff0000"/>
<circle cx="1504.8" cy="290.9" r="2.1" fill="#ff0000"/>
<circle cx="1619.3" cy="312.1" r="2.1" fill="#ff0000"/>
<circle cx="1634.9" cy="69.5" r="2.1" fill="#ff0000"/>
<circle cx="1634.9" cy="69.5" r="4.6" fill="none" stroke="#0000ff" stroke-width="1.2"/>
<circle cx="1569.9" cy="110.8" r="2.1" fill="#ff0000"/>
<circle cx="1577.9" cy="114.8" r="2.1" fill="#ff0000"/>
<circle cx="1608.0" cy="106.6" r="2.1" fill="#ff0000"/>
<circle cx="1593.6" cy="127.9" r="2.1" fill="#ff0000"/>
<circle cx="2350.74" cy="1438.77" r="1548.23" fill="none" stroke="#000" stroke-width="1"/>
<circle cx="2350.74" cy="1438.77" r="1527.83" fill="none" stroke="#000" stroke-width="1"/>
</g>
<line x1="1110.4" y1="675" x2="1110.4" y2="665" stroke="#000" stroke-width="0.9" />
<line x1="1110.4" y1="1.4" x2="1110.4" y2="11" stroke="#000" stroke-width="0.9" />
<text x="1110.6" y="702.8" font-size="21.1" text-anchor="middle" font-family="Liberation Sans, sans-serif" stroke="#000" stroke-width="0.19" >-32</text>
<line x1="1187.6" y1="675" x2="1187.6" y2="665" stroke="#000" stroke-width="0.9" />
<line x1="1187.6" y1="1.4" x2="1187.6" y2="11" stroke="#000" stroke-width="0.9" />
<text x="1187.8" y="702.8" font-size="21.1" text-anchor="middle" font-family="Liberation Sans, sans-serif" stroke="#000" stroke-width="0.19" >-30</text>
<line x1="1264.8" y1="675" x2="1264.8" y2="665" stroke="#000" stroke-width="0.9" />
<line x1="1264.8" y1="1.4" x2="1264.8" y2="11" stroke="#000" stroke-width="0.9" />
<text x="1265" y="702.8" font-size="21.1" text-anchor="middle" font-family="Liberation Sans, sans-serif" stroke="#000" stroke-width="0.19" >-28</text>
<line x1="1342" y1="675" x2="1342" y2="665" stroke="#000" stroke-width="0.9" />
<line x1="1342" y1="1.4" x2="1342" y2="11" stroke="#000" stroke-width="0.9" />
<text x="1342.2" y="702.8" font-size="21.1" text-anchor="middle" font-family="Liberation Sans, sans-serif" stroke="#000" stroke-width="0.19" >-26</text>
<line x1="1419.2" y1="675" x2="1419.2" y2="665" stroke="#000" stroke-width="0.9" />
<line x1="1419.2" y1="1.4" x2="1419.2" y2="11" stroke="#000" stroke-width="0.9" />
<text x="1419.4" y="702.8" font-size="21.1" text-anchor="middle" font-family="Liberation Sans, sans-serif" stroke="#000" stroke-width="0.19" >-24</text>
<line x1="1496.4" y1="675" x2="1496.4" y2="665" stroke="#000" stroke-width="0.9" />
<line x1="1496.4" y1="1.4" x2="1496.4" y2="11" stroke="#000" stroke-width="0.9" />
<text x="1496.6" y="702.8" font-size="21.1" text-anchor="middle" font-family="Liberation Sans, sans-serif" stroke="#000" stroke-width="0.19" >-22</text>
<line x1="1573.6" y1="675" x2="1573.6" y2="665" stroke="#000" stroke-width="0.9" />
<line x1="1573.6" y1="1.4" x2="1573.6" y2="11" stroke="#000" stroke-width="0.9" />
<text x="1573.8" y="702.8" font-size="21.1" text-anchor="middle" font-family="Liberation Sans, sans-serif" stroke="#000" stroke-width="0.19" >-20</text>
<line x1="1047.7" y1="659.62" x2="1057" y2="659.62" stroke="#000" stroke-width="0.9" />
<line x1="1646.8" y1="659.62" x2="1637.5" y2="659.62" stroke="#000" stroke-width="0.9" />
<text x="1035.2" y="667.32" font-size="21.1" text-anchor="end" font-family="Liberation Sans, sans-serif" stroke="#000" stroke-width="0.19" >20</text>
<line x1="1047.7" y1="582.48" x2="1057" y2="582.48" stroke="#000" stroke-width="0.9" />
<line x1="1646.8" y1="582.48" x2="1637.5" y2="582.48" stroke="#000" stroke-width="0.9" />
<text x="1035.2" y="590.18" font-size="21.1" text-anchor="end" font-family="Liberation Sans, sans-serif" stroke="#000" stroke-width="0.19" >22</text>
<line x1="1047.7" y1="505.34" x2="1057" y2="505.34" stroke="#000" stroke-width="0.9" />
<line x1="1646.8" y1="505.34" x2="1637.5" y2="505.34" stroke="#000" stroke-width="0.9" />
<text x="1035.2" y="513.04" font-size="21.1" text-anchor="end" font-family="Liberation Sans, sans-serif" stroke="#000" stroke-width="0.19" >24</text>
<line x1="1047.7" y1="428.2" x2="1057" y2="428.2" stroke="#000" stroke-width="0.9" />
<line x1="1646.8" y1="428.2" x2="1637.5" y2="428.2" stroke="#000" stroke-width="0.9" />
<text x="1035.2" y="435.9" font-size="21.1" text-anchor="end" font-family="Liberation Sans, sans-serif" stroke="#000" stroke-width="0.19" >26</text>
<line x1="1047.7" y1="351.06" x2="1057" y2="351.06" stroke="#000" stroke-width="0.9" />
<line x1="1646.8" y1="351.06" x2="1637.5" y2="351.06" stroke="#000" stroke-width="0.9" />
<text x="1035.2" y="358.76" font-size="21.1" text-anchor="end" font-family="Liberation Sans, sans-serif" stroke="#000" stroke-width="0.19" >28</text>
<line x1="1047.7" y1="273.92" x2="1057" y2="273.92" stroke="#000" stroke-width="0.9" />
<line x1="1646.8" y1="273.92" x2="1637.5" y2="273.92" stroke="#000" stroke-width="0.9" />
<text x="1035.2" y="281.62" font-size="21.1" text-anchor="end" font-family="Liberation Sans, sans-serif" stroke="#000" stroke-width="0.19" >30</text>
<line x1="1047.7" y1="196.78" x2="1057" y2="196.78" stroke="#000" stroke-width="0.9" />
<line x1="1646.8" y1="196.78" x2="1637.5" y2="196.78" stroke="#000" stroke-width="0.9" />
<text x="1035.2" y="204.48" font-size="21.1" text-anchor="end" font-family="Liberation Sans, sans-serif" stroke="#000" stroke-width="0.19" >32</text>
<line x1="1047.7" y1="119.64" x2="1057" y2="119.64" stroke="#000" stroke-width="0.9" />
<line x1="1646.8" y1="119.64" x2="1637.5" y2="119.64" stroke="#000" stroke-width="0.9" />
<text x="1035.2" y="127.34" font-size="21.1" text-anchor="end" font-family="Liberation Sans, sans-serif" stroke="#000" stroke-width="0.19" >34</text>
<line x1="1047.7" y1="42.5" x2="1057" y2="42.5" stroke="#000" stroke-width="0.9" />
<line x1="1646.8" y1="42.5" x2="1637.5" y2="42.5" stroke="#000" stroke-width="0.9" />
<text x="1035.2" y="50.2" font-size="21.1" text-anchor="end" font-family="Liberation Sans, sans-serif" stroke="#000" stroke-width="0.19" >36</text>
<rect x="1047.7" y="1.4" width="599.1" height="673.6" fill="none" stroke="#000" stroke-width="1.7"/>
<text x="1572.5" y="73.1" font-size="46" text-anchor="middle" font-family="Liberation Serif, serif" stroke="#000" stroke-width="0.41" >B</text>
<text x="1205.2" y="357.9" font-size="32.8" text-anchor="middle" font-family="Liberation Serif, serif" stroke="#000" stroke-width="0.9">ω</text>
<line x1="1217.5" y1="348.9" x2="1276.2" y2="337.5" stroke="#000" stroke-width="1.8" />
<line x1="1276.2" y1="337.5" x2="1262.23" y2="336.52" stroke="#000" stroke-width="0.8" />
<line x1="1276.2" y1="337.5" x2="1263.62" y2="343.64" stroke="#000" stroke-width="0.8" />
<path d="M1259.29 330.8 L1263.28 334.94 L1277.75 320.99 L1273.76 316.85 M1270.52 327.97 L1257.23 314.18" fill="none" stroke="#000" stroke-width="3.7" stroke-linejoin="miter"/>
<path d="M1286.3 355.28 L1281.48 350.28 L1296.09 336.19 L1300.92 341.19 M1288.78 343.23 L1302.98 357.96" fill="none" stroke="#000" stroke-width="3.7" stroke-linejoin="miter"/>
</g>
<g id="insetB">
<line x1="1102.6" y1="219.7" x2="1102.6" y2="216.9" stroke="#666" stroke-width="0.7" />
<line x1="1102.6" y1="22.2" x2="1102.6" y2="25" stroke="#666" stroke-width="0.7" />
<text x="1104.1" y="235.5" font-size="12" text-anchor="middle" font-family="Liberation Serif, serif" stroke="#000" stroke-width="0.11" >38.6</text>
<line x1="1143.46" y1="219.7" x2="1143.46" y2="216.9" stroke="#666" stroke-width="0.7" />
<line x1="1143.46" y1="22.2" x2="1143.46" y2="25" stroke="#666" stroke-width="0.7" />
<text x="1144.96" y="235.5" font-size="12" text-anchor="middle" font-family="Liberation Serif, serif" stroke="#000" stroke-width="0.11" >38.8</text>
<line x1="1184.32" y1="219.7" x2="1184.32" y2="216.9" stroke="#666" stroke-width="0.7" />
<line x1="1184.32" y1="22.2" x2="1184.32" y2="25" stroke="#666" stroke-width="0.7" />
<text x="1185.82" y="235.5" font-size="12" text-anchor="middle" font-family="Liberation Serif, serif" stroke="#000" stroke-width="0.11" >39</text>
<line x1="1225.18" y1="219.7" x2="1225.18" y2="216.9" stroke="#666" stroke-width="0.7" />
<line x1="1225.18" y1="22.2" x2="1225.18" y2="25" stroke="#666" stroke-width="0.7" />
<text x="1226.68" y="235.5" font-size="12" text-anchor="middle" font-family="Liberation Serif, serif" stroke="#000" stroke-width="0.11" >39.2</text>
<line x1="1266.04" y1="219.7" x2="1266.04" y2="216.9" stroke="#666" stroke-width="0.7" />
<line x1="1266.04" y1="22.2" x2="1266.04" y2="25" stroke="#666" stroke-width="0.7" />
<text x="1267.54" y="235.5" font-size="12" text-anchor="middle" font-family="Liberation Serif, serif" stroke="#000" stroke-width="0.11" >39.4</text>
<line x1="1306.9" y1="219.7" x2="1306.9" y2="216.9" stroke="#666" stroke-width="0.7" />
<line x1="1306.9" y1="22.2" x2="1306.9" y2="25" stroke="#666" stroke-width="0.7" />
<text x="1308.4" y="235.5" font-size="12" text-anchor="middle" font-family="Liberation Serif, serif" stroke="#000" stroke-width="0.11" >39.6</text>
<line x1="1347.76" y1="219.7" x2="1347.76" y2="216.9" stroke="#666" stroke-width="0.7" />
<line x1="1347.76" y1="22.2" x2="1347.76" y2="25" stroke="#666" stroke-width="0.7" />
<text x="1349.26" y="235.5" font-size="12" text-anchor="middle" font-family="Liberation Serif, serif" stroke="#000" stroke-width="0.11" >39.8</text>
<line x1="1388.62" y1="219.7" x2="1388.62" y2="216.9" stroke="#666" stroke-width="0.7" />
<line x1="1388.62" y1="22.2" x2="1388.62" y2="25" stroke="#666" stroke-width="0.7" />
<text x="1390.12" y="235.5" font-size="12" text-anchor="middle" font-family="Liberation Serif, serif" stroke="#000" stroke-width="0.11" >40</text>
<line x1="1102.6" y1="219.7" x2="1105.4" y2="219.7" stroke="#666" stroke-width="0.7" />
<line x1="1388.6" y1="219.7" x2="1385.8" y2="219.7" stroke="#666" stroke-width="0.7" />
<text x="1095.6" y="223.8" font-size="12" text-anchor="end" font-family="Liberation Serif, serif" stroke="#000" stroke-width="0.11" >0</text>
<line x1="1102.6" y1="186.8" x2="1105.4" y2="186.8" stroke="#666" stroke-width="0.7" />
<line x1="1388.6" y1="186.8" x2="1385.8" y2="186.8" stroke="#666" stroke-width="0.7" />
<text x="1095.6" y="190.9" font-size="12" text-anchor="end" font-family="Liberation Serif, serif" stroke="#000" stroke-width="0.11" >0.2</text>
<line x1="1102.6" y1="153.9" x2="1105.4" y2="153.9" stroke="#666" stroke-width="0.7" />
<line x1="1388.6" y1="153.9" x2="1385.8" y2="153.9" stroke="#666" stroke-width="0.7" />
<text x="1095.6" y="158" font-size="12" text-anchor="end" font-family="Liberation Serif, serif" stroke="#000" stroke-width="0.11" >0.4</text>
<line x1="1102.6" y1="121" x2="1105.4" y2="121" stroke="#666" stroke-width="0.7" />
<line x1="1388.6" y1="121" x2="1385.8" y2="121" stroke="#666" stroke-width="0.7" />
<text x="1095.6" y="125.1" font-size="12" text-anchor="end" font-family="Liberation Serif, serif" stroke="#000" stroke-width="0.11" >0.6</text>
<line x1="1102.6" y1="88.1" x2="1105.4" y2="88.1" stroke="#666" stroke-width="0.7" />
<line x1="1388.6" y1="88.1" x2="1385.8" y2="88.1" stroke="#666" stroke-width="0.7" />
<text x="1095.6" y="92.2" font-size="12" text-anchor="end" font-family="Liberation Serif, serif" stroke="#000" stroke-width="0.11" >0.8</text>
<line x1="1102.6" y1="55.2" x2="1105.4" y2="55.2" stroke="#666" stroke-width="0.7" />
<line x1="1388.6" y1="55.2" x2="1385.8" y2="55.2" stroke="#666" stroke-width="0.7" />
<text x="1095.6" y="59.3" font-size="12" text-anchor="end" font-family="Liberation Serif, serif" stroke="#000" stroke-width="0.11" >1</text>
<line x1="1102.6" y1="22.3" x2="1105.4" y2="22.3" stroke="#666" stroke-width="0.7" />
<line x1="1388.6" y1="22.3" x2="1385.8" y2="22.3" stroke="#666" stroke-width="0.7" />
<text x="1095.6" y="26.4" font-size="12" text-anchor="end" font-family="Liberation Serif, serif" stroke="#000" stroke-width="0.11" >1.2</text>
<polyline points="1102.6,219.7 1112.8,219.7 1133.23,219.7 1153.66,219.7 1174.09,219.7 1194.52,219.7 1214.95,219.7 1235.38,219.7 1255.81,219 1276.24,217 1296.67,206.6 1317.1,179.7 1337.53,124.7 1357.96,74.3 1378.39,219.7" fill="none" stroke="#0000ff" stroke-width="1.2"/>
<circle cx="1112.8" cy="219.7" r="3.3" fill="#0000ff"/>
<circle cx="1133.23" cy="219.7" r="3.3" fill="#0000ff"/>
<circle cx="1153.66" cy="219.7" r="3.3" fill="#0000ff"/>
<circle cx="1174.09" cy="219.7" r="3.3" fill="#0000ff"/>
<circle cx="1194.52" cy="219.7" r="3.3" fill="#0000ff"/>
<circle cx="1214.95" cy="219.7" r="3.3" fill="#0000ff"/>
<circle cx="1235.38" cy="219.7" r="3.3" fill="#0000ff"/>
<circle cx="1255.81" cy="219" r="3.3" fill="#0000ff"/>
<circle cx="1276.24" cy="217" r="3.3" fill="#0000ff"/>
<circle cx="1296.67" cy="206.6" r="3.3" fill="#0000ff"/>
<circle cx="1317.1" cy="179.7" r="3.3" fill="#0000ff"/>
<circle cx="1337.53" cy="124.7" r="3.3" fill="#0000ff"/>
<circle cx="1357.96" cy="74.3" r="3.3" fill="#0000ff"/>
<circle cx="1378.39" cy="219.7" r="3.3" fill="#0000ff"/>
<polyline points="1102.6,53.6 1112.8,50.5 1133.23,60.1 1153.66,54.5 1174.09,59.7 1194.52,53.4 1214.95,50.5 1235.38,56.8 1255.81,51.8 1276.24,55.5 1296.67,67.9 1317.1,94.1 1337.53,155.1 1357.96,207 1378.39,219.7" fill="none" stroke="#ff0000" stroke-width="1.2"/>
<circle cx="1112.8" cy="50.5" r="3.3" fill="#ff0000"/>
<circle cx="1133.23" cy="60.1" r="3.3" fill="#ff0000"/>
<circle cx="1153.66" cy="54.5" r="3.3" fill="#ff0000"/>
<circle cx="1174.09" cy="59.7" r="3.3" fill="#ff0000"/>
<circle cx="1194.52" cy="53.4" r="3.3" fill="#ff0000"/>
<circle cx="1214.95" cy="50.5" r="3.3" fill="#ff0000"/>
<circle cx="1235.38" cy="56.8" r="3.3" fill="#ff0000"/>
<circle cx="1255.81" cy="51.8" r="3.3" fill="#ff0000"/>
<circle cx="1276.24" cy="55.5" r="3.3" fill="#ff0000"/>
<circle cx="1296.67" cy="67.9" r="3.3" fill="#ff0000"/>
<circle cx="1317.1" cy="94.1" r="3.3" fill="#ff0000"/>
<circle cx="1337.53" cy="155.1" r="3.3" fill="#ff0000"/>
<circle cx="1357.96" cy="207" r="3.3" fill="#ff0000"/>
<circle cx="1378.39" cy="219.7" r="3.3" fill="#ff0000"/>
<rect x="1102.6" y="22.2" width="286" height="197.5" fill="none" stroke="#2a2a2a" stroke-width="1"/>
<text x="1246.3" y="254.6" font-size="18" text-anchor="middle" font-family="Liberation Serif, serif" stroke="#000" stroke-width="0.4">r</text>
<text x="1236.8" y="180.7" font-size="17.9" text-anchor="end" font-family="Liberation Serif, serif" stroke="#000" stroke-width="0.16">&lt;n<tspan font-size="14.3" dy="5.4">A</tspan><tspan dy="-5.4">(r, t=0)&gt;</tspan></text>
<text x="1236.8" y="207" font-size="17.9" text-anchor="end" font-family="Liberation Serif, serif" stroke="#000" stroke-width="0.16">&lt;n<tspan font-size="14.3" dy="5.4">NA</tspan><tspan dy="-5.4">(r, t=0)&gt;</tspan></text>
<line x1="1247.3" y1="176.9" x2="1292.7" y2="176.9" stroke="#0000ff" stroke-width="1.2" />
<circle cx="1270" cy="176.9" r="3.3" fill="#0000ff"/>
<line x1="1247.3" y1="203.2" x2="1292.7" y2="203.2" stroke="#ff0000" stroke-width="1.2" />
<circle cx="1270" cy="203.2" r="3.3" fill="#ff0000"/>
</g>
</svg></body></html>
